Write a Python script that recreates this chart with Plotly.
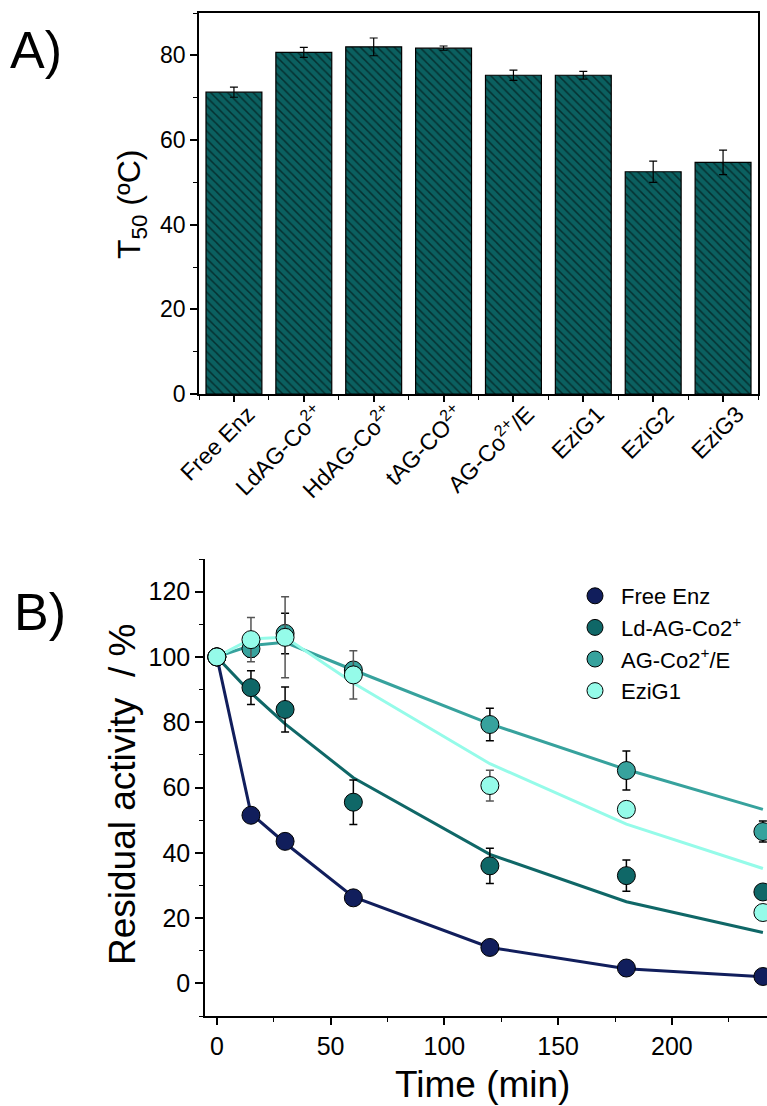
import plotly.graph_objects as go

# ---------------- Data: panel A ----------------
categories = ["Free Enz", "LdAG-Co<sup>2+</sup>", "HdAG-Co<sup>2+</sup>", "tAG-CO<sup>2+</sup>",
              "AG-Co<sup>2+</sup>/E", "EziG1", "EziG2", "EziG3"]
t50 = [71.3, 80.7, 82.0, 81.7, 75.3, 75.3, 52.5, 54.7]
t50_err = [1.2, 1.2, 2.1, 0.5, 1.2, 0.9, 2.5, 2.9]

# ---------------- Data: panel B ----------------
time_min = [0, 15, 30, 60, 120, 180, 240]
series_names = ["Free Enz", "Ld-AG-Co2<sup>+</sup>", "AG-Co2<sup>+</sup>/E", "EziG1"]
free_enz = [100, 51.5, 43.5, 26.2, 11.0, 4.7, 2.1]
free_enz_err = [0.5, 1.5, 1.5, 1.5, 1.8, 1.5, 1.2]
ld_ag = [100, 90.6, 83.9, 55.5, 36.0, 33.0, 28.0]
ld_ag_err = [0.5, 5.2, 6.9, 6.8, 5.4, 4.8, 2.0]
ag_e = [100, 102.5, 107.2, 96.0, 79.3, 65.2, 46.5]
ag_e_err = [0.5, 2.5, 6.2, 2.0, 5.0, 6.0, 3.2]
ezig1 = [100, 105.3, 106.0, 94.5, 60.6, 53.3, 21.7]
ezig1_err = [0.5, 6.8, 12.4, 7.4, 4.7, 1.8, 1.5]

free_enz_fit = [100, 52, 43, 26.5, 11, 4.5, 2]
ld_ag_fit = [100, 89, 79.5, 63, 39.5, 25, 15.6]
ag_e_fit = [100, 103.5, 104.5, 96, 79.5, 65.5, 53.3]
ezig1_fit = [100, 105.5, 106, 92, 67.3, 48.8, 35.2]

colors = ["#111e5c", "#0f6767", "#37a29d", "#95fbe9"]
err_colors = ["black", "black", "black", "#555555"]

W, H = 767, 1106
FONT = "Liberation Sans, Arial, sans-serif"

fig = go.Figure()

# Panel A bars
fig.add_trace(go.Bar(
    x=list(range(len(categories))), y=t50,
    width=0.8,
    marker=dict(color="#0b6060", line=dict(color="black", width=1.2),
                pattern=dict(shape="\\", fgcolor="black", bgcolor="#0b6060",
                             size=6, solidity=0.25)),
    error_y=dict(type="data", array=t50_err, color="black", thickness=1.2, width=4),
    xaxis="x", yaxis="y", showlegend=False,
))

# Panel B fit lines
fits = [free_enz_fit, ld_ag_fit, ag_e_fit, ezig1_fit]
for fv, c in zip(fits, colors):
    fig.add_trace(go.Scatter(x=time_min, y=fv, mode="lines",
                             line=dict(color=c, width=3),
                             xaxis="x2", yaxis="y2", showlegend=False,
                             hoverinfo="skip"))

# Panel B markers
vals = [free_enz, ld_ag, ag_e, ezig1]
errs = [free_enz_err, ld_ag_err, ag_e_err, ezig1_err]
for name, v, e, c, ec in zip(series_names, vals, errs, colors, err_colors):
    fig.add_trace(go.Scatter(
        x=time_min, y=v, mode="markers", name=name,
        marker=dict(color=c, size=18, line=dict(color="black", width=1)),
        error_y=dict(type="data", array=e, color=ec, thickness=1.5, width=4),
        xaxis="x2", yaxis="y2",
    ))

def px_x(p):
    return p / W

def px_y(p):
    return 1 - p / H

base = dict(showline=True, linecolor="black", linewidth=1.5,
            ticks="outside", tickcolor="black", tickwidth=1.5,
            showgrid=False, zeroline=False, automargin=False)

def minor(**kw):
    d = dict(ticks="outside", ticklen=4, tickcolor="black", tickwidth=1.2)
    d.update(kw)
    return d

fig.update_layout(
    width=W, height=H,
    margin=dict(l=0, r=0, t=0, b=0, autoexpand=False),
    paper_bgcolor="white", plot_bgcolor="white",
    font=dict(family=FONT, color="black"),
    xaxis=dict(domain=[px_x(199), px_x(758)], anchor="y",
               range=[-0.5, 7.5], tickvals=list(range(len(categories))),
               ticktext=categories, tickangle=-45, ticklen=6,
               ticklabelshift=14, ticklabelstandoff=-10,
               minor=minor(tickvals=[i + 0.5 for i in range(-1, len(categories))]),
               mirror=True, tickfont=dict(family=FONT, size=23, color="black"), **base),
    yaxis=dict(domain=[px_y(394), px_y(13)], anchor="x",
               range=[0, 90], tickvals=[0, 20, 40, 60, 80], ticklen=7,
               minor=minor(dtick=10, tick0=0),
               mirror=True, tickfont=dict(family=FONT, size=23, color="black"), **base),
    xaxis2=dict(domain=[px_x(205), 1.0], anchor="y2",
                range=[-5.2, 241.8], tickvals=[0, 50, 100, 150, 200], ticklen=7,
                minor=minor(dtick=25, tick0=0),
                tickfont=dict(family=FONT, size=25, color="black"), **base),
    yaxis2=dict(domain=[px_y(1016), px_y(559)], anchor="x2",
                range=[-10, 130], tickvals=[0, 20, 40, 60, 80, 100, 120], ticklen=8,
                minor=minor(dtick=10, tick0=0),
                tickfont=dict(family=FONT, size=25, color="black"), **base),
    legend=dict(x=px_x(569), y=px_y(575), xanchor="left", yanchor="top",
                bgcolor="rgba(0,0,0,0)", font=dict(family=FONT, size=22, color="black"),
                tracegroupgap=0, itemsizing="trace", itemwidth=42),
    annotations=[
        dict(text="A)", x=px_x(8), y=px_y(50), xref="paper", yref="paper",
             xanchor="left", yanchor="middle", showarrow=False,
             font=dict(family=FONT, size=52, color="black")),
        dict(text="B)", x=px_x(12), y=px_y(612), xref="paper", yref="paper",
             xanchor="left", yanchor="middle", showarrow=False,
             font=dict(family=FONT, size=52, color="black")),
        dict(text="T<sub>50</sub> (ºC)", x=px_x(131), y=px_y(205), xref="paper", yref="paper",
             xanchor="center", yanchor="middle", textangle=-90, showarrow=False,
             font=dict(family=FONT, size=32, color="black")),
        dict(text="Residual activity  / %", x=px_x(122), y=px_y(795), xref="paper", yref="paper",
             xanchor="center", yanchor="middle", textangle=-90, showarrow=False,
             font=dict(family=FONT, size=37, color="black")),
        dict(text="Time (min)", x=px_x(482), y=px_y(1084), xref="paper", yref="paper",
             xanchor="center", yanchor="middle", showarrow=False,
             font=dict(family=FONT, size=37, color="black")),
    ],
)

fig.write_html("out.html", config={"displayModeBar": False},
               post_script="document.body.style.margin='0';document.body.style.overflow='hidden';")
